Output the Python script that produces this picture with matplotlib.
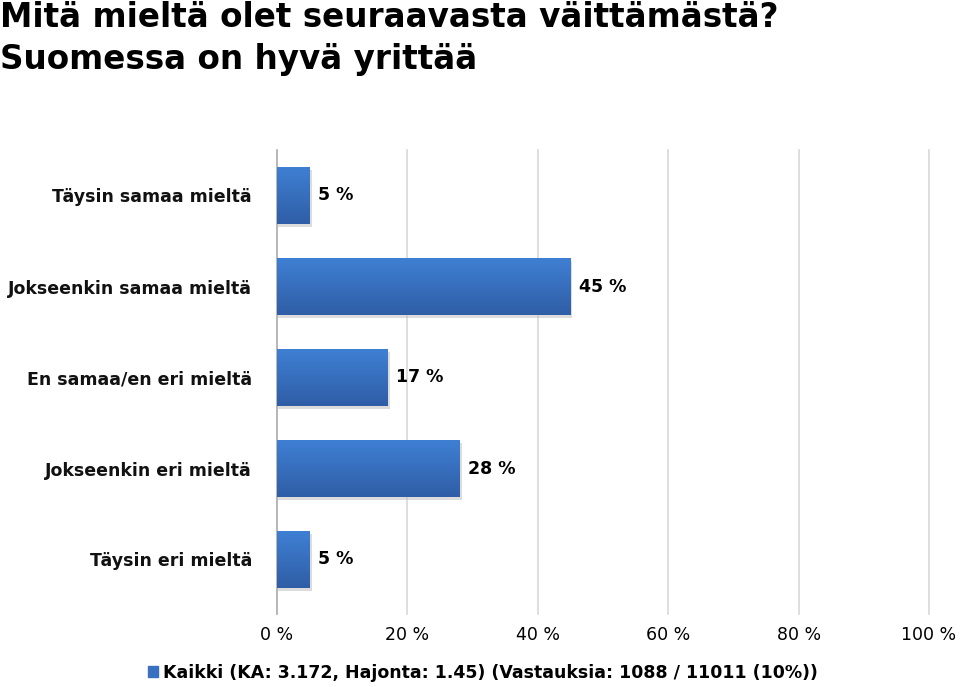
import numpy as np
import matplotlib.pyplot as plt
from matplotlib.colors import LinearSegmentedColormap

categories = ['Täysin samaa mieltä', 'Jokseenkin samaa mieltä', 'En samaa/en eri mieltä',
              'Jokseenkin eri mieltä', 'Täysin eri mieltä']
values = [5, 45, 17, 28, 5]
ticks = [0, 20, 40, 60, 80, 100]
tick_labels = ['0 %', '20 %', '40 %', '60 %', '80 %', '100 %']
title = 'Mitä mieltä olet seuraavasta väittämästä?\nSuomessa on hyvä yrittää'
legend_text = 'Kaikki (KA: 3.172, Hajonta: 1.45) (Vastauksia: 1088 / 11011 (10%))'

plt.rcParams['font.family'] = ['DejaVu Sans']

fig = plt.figure(figsize=(9.6, 6.87), dpi=100)
ax = fig.add_axes([277 / 960, 1 - 605 / 687, 652 / 960, 455 / 687])

y = np.arange(len(categories))
bars = ax.barh(y, values, height=0.63, color='#3a70c0', zorder=3)

# gradient fill + soft shadow for each bar
grad = np.linspace(0, 1, 100).reshape(-1, 1)
cmap = LinearSegmentedColormap.from_list('b', ['#3f80d4', '#2f5ea6'])
for b in bars:
    x0, y0 = b.get_x(), b.get_y()
    w, h = b.get_width(), b.get_height()
    ax.barh(y0 + h / 2 + 0.03, w + 0.3, left=x0, height=h, color='#bbbbbb', alpha=0.5, zorder=2)
    im = ax.imshow(grad, extent=[x0, x0 + w, y0 + h, y0], aspect='auto', cmap=cmap, zorder=4)
    im.set_clip_path(b)

for yi, v in zip(y, values):
    ax.text(v + 1.3, yi, f'{v} %', va='center', ha='left', fontsize=12.5, fontweight='bold', zorder=5)

ax.set_xlim(0, 100)
ax.set_ylim(4.5, -0.5)
ax.set_yticks(y)
ax.set_yticklabels(categories, fontsize=12.5, fontweight='bold', color='#111111')
ax.set_xticks(ticks)
ax.set_xticklabels(tick_labels, fontsize=12.5)
ax.tick_params(axis='y', length=0, pad=18)
ax.tick_params(axis='x', length=0, pad=15)
for s in ax.spines.values():
    s.set_visible(False)
for t in ticks:
    ax.axvline(t, color='#aaaaaa' if t == 0 else '#d8d8d8', lw=1.2, zorder=1, ymin=-0.02, clip_on=False)

fig.text(0.0, 0.998, title, ha='left', va='top', fontsize=23.5, fontweight='bold',
         linespacing=1.35)

ax.legend([plt.Rectangle((0, 0), 1, 1, color='#3a70c0')], [legend_text],
          loc='center', bbox_to_anchor=(483 / 960, 1 - 673 / 687), bbox_transform=fig.transFigure,
          frameon=False, prop={'size': 12.5, 'weight': 'bold'},
          handlelength=0.6, handleheight=0.6, handletextpad=0.3)

fig.savefig('out.png', dpi=100)
